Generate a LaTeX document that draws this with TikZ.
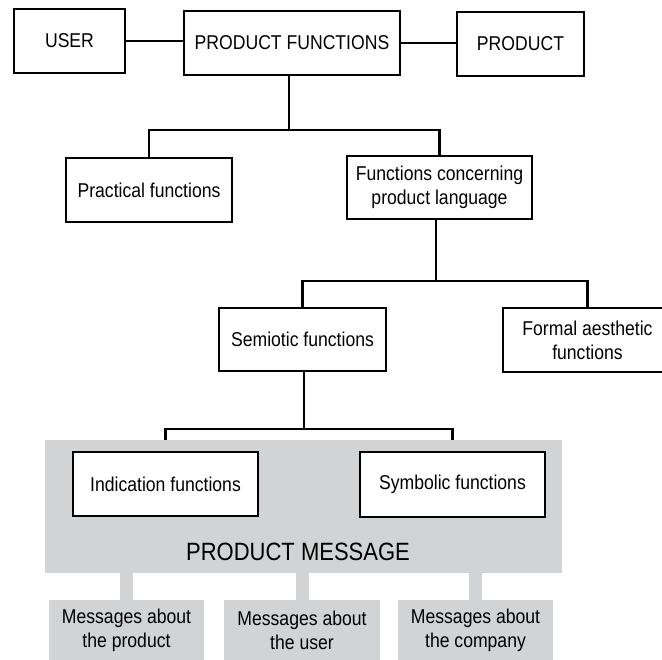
\documentclass[tikz,border=0pt]{standalone}
\usepackage{fontspec}
\setmainfont[FakeStretch=0.88]{Liberation Sans}
\usepackage{xcolor}
\usetikzlibrary{positioning}
\definecolor{msggray}{RGB}{209,211,212}

\begin{document}
\begin{tikzpicture}[x=1pt, y=-1pt,
  every node/.style={inner sep=1.5pt, font=\fontsize{20}{24}\selectfont, align=center},
  fbox/.style={draw=black, fill=white, line width=2.4pt, minimum height=64pt},
  gbox/.style={fill=msggray, minimum width=155pt, minimum height=60pt},
  link/.style={line width=2.4pt},
  stub/.style={draw=msggray, line width=13pt}]
  \useasboundingbox (0,0) rectangle (662,660);

  % top row
  \node[fbox, minimum width=111pt] (user) at (69.5,41) {USER};
  \node[fbox, minimum width=216pt] (pf) at (292,43) {PRODUCT FUNCTIONS};
  \node[fbox, minimum width=127pt] (prod) at (520.5,44) {PRODUCT};
  \draw[link] (user.east) -- (user.east -| pf.west);
  \draw[link] (pf.east) -- (pf.east -| prod.west);

  % second level
  \node[fbox, minimum width=166pt] (prac) at (149,190) {Practical functions};
  \node[fbox, minimum width=185pt, minimum height=63pt] (fcpl) at (439.5,187.5) {Functions concerning\\product language};
  \coordinate (j1) at (289,130);
  \draw[link] (pf.south -| j1) -- (j1);
  \draw[link] (prac.north) |- (j1) -| (fcpl.north);

  % third level
  \node[fbox, minimum width=167pt, minimum height=63pt] (semio) at (302.5,339.5) {Semiotic functions};
  \node[fbox, minimum width=169pt] (formal) at (587.5,340) {Formal aesthetic\\functions};
  \coordinate (j2) at (436,281);
  \draw[link] (fcpl.south -| j2) -- (j2);
  \draw[link] (semio.north) |- (j2) -| (formal.north);

  % product message
  \node[fill=msggray, minimum width=517pt, minimum height=133pt] (msg) at (303.5,506.5) {};
  \node[font=\fontsize{25}{30}\selectfont] (msglabel) at (298,552) {PRODUCT MESSAGE};
  \node[fbox, minimum width=185pt] (indic) at (165.5,484) {Indication functions};
  \node[fbox, minimum width=185pt, minimum height=65pt] (symb) at (452.5,484.5) {Symbolic functions};
  \coordinate (j3) at (304,429);
  \draw[link] (semio.south -| j3) -- (j3);
  \draw[link] (indic.north |- msg.north) |- (j3) -| (symb.north |- msg.north);

  % messages
  \node[gbox] (mprod) at (126.5,630) {Messages about\\the product};
  \node[gbox, minimum width=156pt] (muser) at (302,630) {Messages about\\the user};
  \node[gbox] (mcomp) at (475.5,630) {Messages about\\the company};
  \foreach \m in {mprod, muser, mcomp}
    \draw[stub] (\m.north) -- (\m.north |- msg.south);
\end{tikzpicture}
\end{document}
